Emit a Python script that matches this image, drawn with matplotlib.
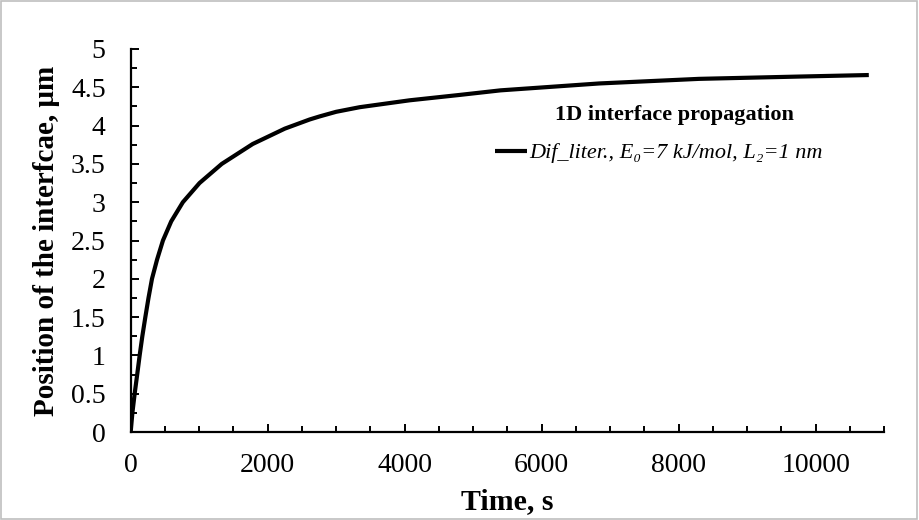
#!/usr/bin/env python3

import matplotlib
matplotlib.use("Agg")
import matplotlib.pyplot as plt
from matplotlib.ticker import MultipleLocator
from matplotlib.patches import Rectangle

# values
time_s = [0, 25, 58, 95, 131, 170, 214, 260, 311, 385, 471, 592, 762, 1005,
          1330, 1782, 2250, 2614, 2760, 3000, 3343, 4072, 4801, 5400, 6841, 8299,
          9757, 10777]
position_um = [0.0, 0.25, 0.5, 0.75, 1.0, 1.25, 1.5, 1.75, 2.0, 2.25, 2.5, 2.75,
               3.0, 3.25, 3.5, 3.76, 3.96, 4.08, 4.12, 4.18, 4.24, 4.33, 4.40, 4.46,
               4.55, 4.61, 4.64, 4.66]
x_ticks = [0, 2000, 4000, 6000, 8000, 10000]
y_ticks = [0, 0.5, 1, 1.5, 2, 2.5, 3, 3.5, 4, 4.5, 5]
series_label = "Dif_liter., E₀=7 kJ/mol, L₂=1 nm"
legend_title = "1D interface propagation"

serif = ["Liberation Serif", "DejaVu Serif"]
plt.rcParams["font.family"] = serif

fig = plt.figure(figsize=(9.19, 5.2), dpi=100)
fig.patches.append(Rectangle((0.001, 0.001), 0.997, 0.997, transform=fig.transFigure,
                             fill=False, edgecolor="#bfbfbf", linewidth=1.2))
ax = fig.add_axes([0.1422, 0.1692, 0.8198, 0.7366])

ax.plot(time_s, position_um, color="black", linewidth=3, label=series_label,
        solid_capstyle="butt", solid_joinstyle="round")

ax.set_xlim(0, 11000)
ax.set_ylim(0, 5)
ax.set_xticks(x_ticks)
ax.set_yticks(y_ticks)
ax.set_yticklabels([f"{v:g}" for v in y_ticks])
ax.xaxis.set_minor_locator(MultipleLocator(500))
ax.yaxis.set_minor_locator(MultipleLocator(0.25))

for side in ["top", "right"]:
    ax.spines[side].set_visible(False)
for side in ["left", "bottom"]:
    ax.spines[side].set_linewidth(1.6)

ax.tick_params(axis="both", which="major", direction="in", length=6, width=1.4,
               labelsize=20, colors="black")
ax.tick_params(axis="both", which="minor", direction="in", length=4, width=1.4)
ax.tick_params(axis="x", pad=15)
ax.tick_params(axis="y", pad=18)

ax.set_xlabel("Time, s", fontsize=21.5, fontweight="bold", labelpad=7)
ax.set_ylabel("Position of the interfcae, μm", fontsize=21, fontweight="bold", labelpad=8)

fig.text(674 / 919, 1 - 115 / 520, legend_title, ha="center", va="center",
         fontsize=16, fontweight="bold")
leg = fig.legend(loc="center left", bbox_to_anchor=(495 / 919, 1 - 153 / 520),
                 frameon=False, borderpad=0, borderaxespad=0,
                 handlelength=1.45, handletextpad=0.1,
                 prop={"family": serif, "style": "italic", "size": 16})

fig.savefig("out.png", dpi=100)
